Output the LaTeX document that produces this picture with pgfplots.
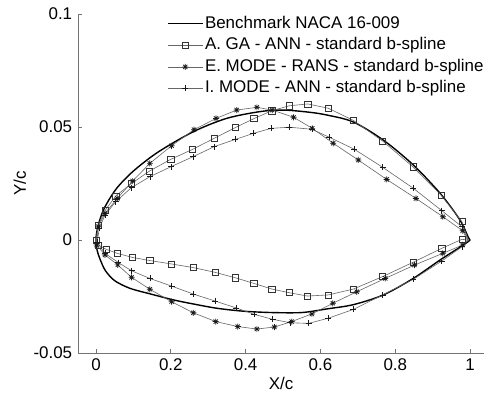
\documentclass[border=0pt]{standalone}
\usepackage{pgfplots}
\pgfplotsset{compat=1.18}
\usepackage{fontspec}
\setmainfont{Liberation Sans}
\pgfdeclareplotmark{mstar}{%
  \pgfpathmoveto{\pgfqpoint{-\pgfplotmarksize}{0pt}}\pgfpathlineto{\pgfqpoint{\pgfplotmarksize}{0pt}}%
  \pgfpathmoveto{\pgfqpoint{0pt}{-\pgfplotmarksize}}\pgfpathlineto{\pgfqpoint{0pt}{\pgfplotmarksize}}%
  \pgfpathmoveto{\pgfqpoint{-.707\pgfplotmarksize}{-.707\pgfplotmarksize}}\pgfpathlineto{\pgfqpoint{.707\pgfplotmarksize}{.707\pgfplotmarksize}}%
  \pgfpathmoveto{\pgfqpoint{-.707\pgfplotmarksize}{.707\pgfplotmarksize}}\pgfpathlineto{\pgfqpoint{.707\pgfplotmarksize}{-.707\pgfplotmarksize}}%
  \pgfusepathqstroke}
\begin{document}
\fontsize{17}{20}\selectfont
\begin{tikzpicture}
\begin{axis}[
 scale only axis, width=406bp, height=339bp,
 xmin=-0.048, xmax=1.037, ymin=-0.05, ymax=0.1,
 axis x line*=bottom, axis y line*=left,
 axis line style={black!55, line width=0.8bp},
 tick style={black!55, line width=0.8bp},
 tick align=inside, major tick length=4bp,
 xtick={0,0.2,0.4,0.6,0.8,1}, xticklabels={0,0.2,0.4,0.6,0.8,1},
 ytick={-0.05,0,0.05,0.1}, yticklabels={-0.05,0,0.05,0.1},
 xlabel={X/c}, ylabel={Y/c},
 xlabel style={at={(axis description cs:0.5,-0.0885)}, anchor=center},
 ylabel style={at={(axis description cs:-0.143,0.5)}, anchor=center},
 ticklabel style={font=\fontsize{17}{20}\selectfont},
 label style={font=\fontsize{17}{20}\selectfont},
 legend style={at={(axis description cs:0.219,1.0)}, anchor=north west, draw=none, fill=none,
   inner sep=0pt, row sep=2.6bp, font=\fontsize{17}{20}\selectfont,
   nodes={inner sep=1.5bp, text height=12.5bp, text depth=3.5bp}},
 legend cell align=left,
 legend image code/.code={\draw[mark repeat=2,mark phase=2] plot coordinates {(0bp,0bp)(17.5bp,0bp)(35bp,0bp)};},
]
\coordinate (sw) at (rel axis cs:0,0);
\coordinate (ne) at (rel axis cs:1,1);
% Benchmark
\addplot[black, line width=1.4bp, smooth, tension=0.5] coordinates {
(1,0) (0.995,0.0012) (0.973,0.0088) (0.92,0.0206) (0.848,0.0332) (0.768,0.0442) (0.688,0.0522) (0.62,0.0552) (0.572,0.0565) (0.5,0.0575) (0.438,0.0568) (0.349,0.0538) (0.26,0.0479) (0.165,0.0388) (0.10,0.0305) (0.055,0.0228) (0.022,0.014) (0.006,0.0065) (0,0.0005)
(0.003,-0.0045) (0.011,-0.0085) (0.025,-0.0135) (0.05,-0.018) (0.091,-0.0214) (0.144,-0.0238) (0.207,-0.0265) (0.26,-0.0283) (0.323,-0.0302) (0.394,-0.0315) (0.47,-0.0321) (0.55,-0.0321) (0.617,-0.0305) (0.688,-0.0286) (0.768,-0.0243) (0.848,-0.017) (0.92,-0.0088) (0.982,-0.0022) (1,0)
};
\addlegendentry{Benchmark NACA 16-009}
% A. GA - ANN
\addplot[black!60, line width=0.6bp, mark=square, mark size=3.1bp, mark options={black!80, line width=0.6bp}] coordinates {
(0.978,0.0081) (0.922,0.0199) (0.847,0.0324) (0.766,0.0438) (0.688,0.0529) (0.621,0.0583) (0.566,0.0602) (0.517,0.0594) (0.47,0.0572) (0.422,0.0537) (0.372,0.0497) (0.316,0.045) (0.258,0.0401) (0.2,0.0357) (0.143,0.0305) (0.095,0.025) (0.053,0.0195) (0.024,0.013) (0.006,0.0066) (0,0)
(0.006,-0.0022) (0.027,-0.0041) (0.057,-0.0059) (0.097,-0.0077) (0.144,-0.0091) (0.202,-0.0106) (0.26,-0.0122) (0.318,-0.0143) (0.372,-0.0167) (0.422,-0.0192) (0.47,-0.0217) (0.516,-0.0233) (0.565,-0.0248) (0.621,-0.0243) (0.688,-0.0217) (0.766,-0.0162) (0.847,-0.0099) (0.924,-0.0037) (0.978,0.0003)
};
\addlegendentry{A. GA - ANN - standard b-spline}
% E. MODE - RANS
\addplot[black!60, line width=0.6bp, mark=mstar, mark size=3bp, mark options={black!90, line width=0.7bp}] coordinates {
(0.98,0.0041) (0.927,0.0103) (0.855,0.0184) (0.777,0.0268) (0.701,0.0354) (0.634,0.0428) (0.578,0.0494) (0.528,0.0543) (0.471,0.0575) (0.43,0.0587) (0.376,0.0575) (0.321,0.0538) (0.262,0.0488) (0.202,0.0417) (0.144,0.0339) (0.098,0.0261) (0.057,0.0184) (0.024,0.0118) (0.006,0.0059) (0.002,-0.0022)
(0.024,-0.0066) (0.058,-0.011) (0.095,-0.0165) (0.144,-0.0218) (0.202,-0.0273) (0.26,-0.0322) (0.32,-0.0361) (0.379,-0.0383) (0.43,-0.0394) (0.477,-0.0385) (0.523,-0.0361) (0.577,-0.0327) (0.633,-0.028) (0.697,-0.0229) (0.773,-0.017) (0.851,-0.0111) (0.927,-0.0059) (0.98,-0.0022)
};
\addlegendentry{E. MODE - RANS - standard b-spline}
% I. MODE - ANN
\addplot[black!60, line width=0.6bp, mark=+, mark size=3bp, mark options={black!90, line width=0.6bp}] coordinates {
(0.978,0.0059) (0.924,0.013) (0.848,0.0229) (0.766,0.0322) (0.69,0.0402) (0.623,0.0455) (0.577,0.049) (0.517,0.0499) (0.468,0.0494) (0.421,0.0472) (0.372,0.0445) (0.316,0.0413) (0.26,0.0369) (0.2,0.0324) (0.144,0.028) (0.095,0.0232) (0.053,0.017) (0.024,0.011) (0.009,0.0052) (0.003,-0.001)
(0.024,-0.0059) (0.06,-0.01) (0.095,-0.0136) (0.144,-0.017) (0.202,-0.0204) (0.26,-0.0239) (0.318,-0.027) (0.374,-0.03) (0.423,-0.0329) (0.472,-0.0351) (0.519,-0.0366) (0.568,-0.0369) (0.621,-0.0346) (0.688,-0.0307) (0.766,-0.0243) (0.848,-0.0174) (0.924,-0.0093) (0.978,-0.003)
};
\addlegendentry{I. MODE - ANN - standard b-spline}
% trailing edge closures
\addplot[black!60, line width=0.6bp, forget plot] coordinates {(0.978,0.0081) (0.995,0) (0.978,0.0003)};
\addplot[black!60, line width=0.6bp, forget plot] coordinates {(0.98,0.0041) (0.993,0) (0.98,-0.0022)};
\addplot[black!60, line width=0.6bp, forget plot] coordinates {(0.978,0.0059) (0.995,0) (0.978,-0.003)};
\end{axis}
\pgfresetboundingbox
\path ([shift={(-78bp,-44bp)}]sw) rectangle ([shift={(10bp,14bp)}]ne);
\end{tikzpicture}
\end{document}
